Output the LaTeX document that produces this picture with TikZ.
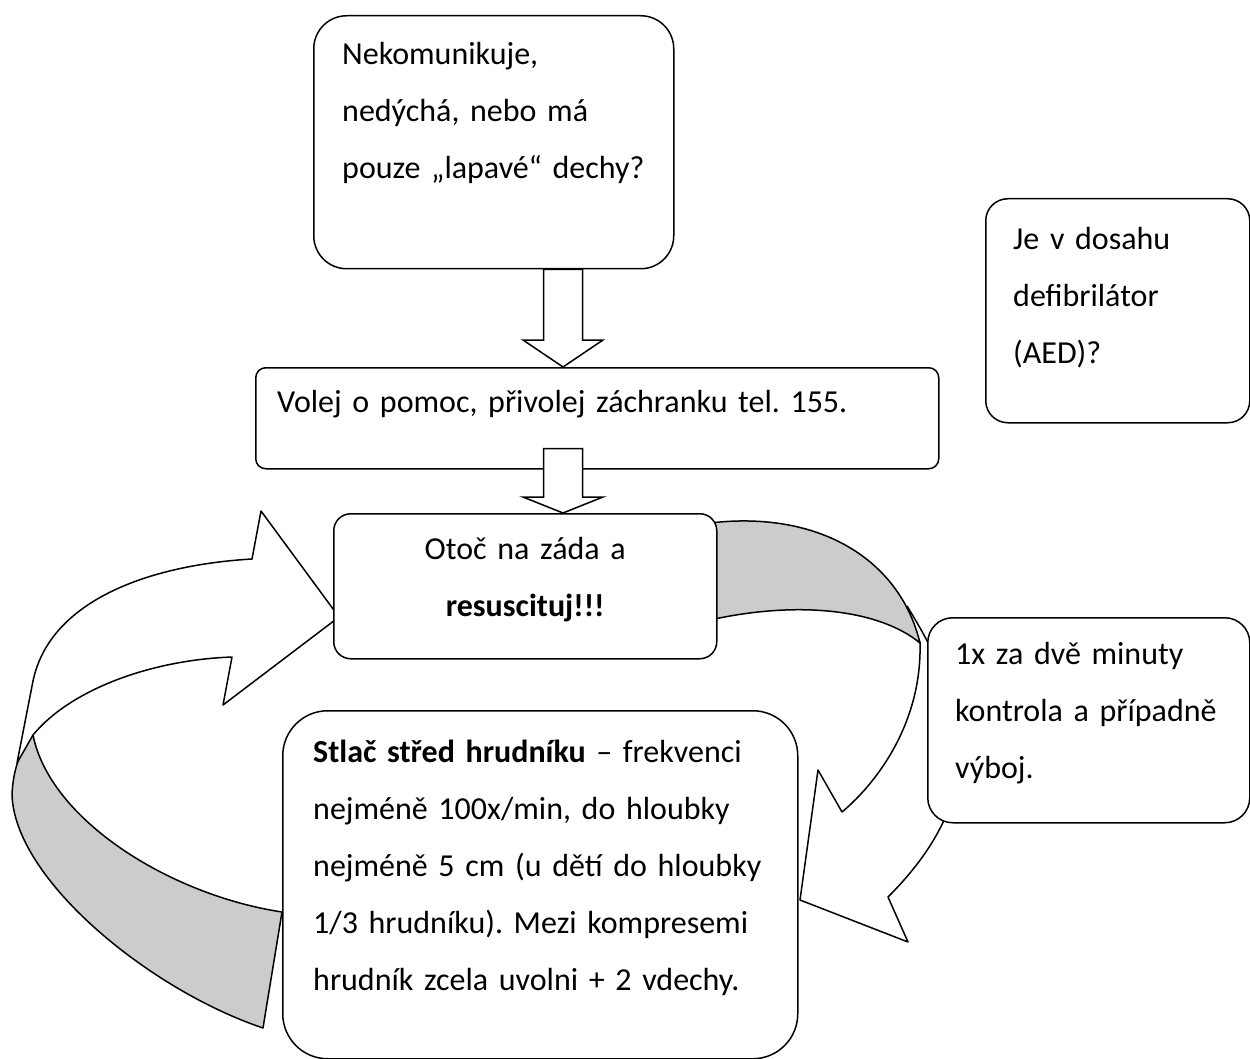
\documentclass[tikz,border=0pt]{standalone}
\usepackage{fontspec}
\setmainfont{Carlito}
\usepackage{tikz}
\frenchspacing
\tikzstyle{panel}=[draw, fill=white, line width=1.5pt, inner sep=0pt, anchor=north west]
\tikzstyle{words}=[font=\fontsize{32}{57}\selectfont, inner sep=0pt, text width=700pt, align=left, anchor=base west]
\tikzstyle{ribbon}=[draw, line width=1.5pt, line join=round]
\tikzstyle{hollow}=[draw, fill=white, line width=1.5pt]
\newcommand{\panel}{\node[panel]}
\newcommand{\words}{\node[words]}
% hollow block arrow: from, to, head length
\newcommand{\hollowarrow}[3]{%
  \path[hollow] ([xshift=-19.5pt]#1) -- ([xshift=-19.5pt,yshift=#3]#2)
    -- ([xshift=-40pt,yshift=#3]#2) -- (#2) -- ([xshift=40pt,yshift=#3]#2)
    -- ([xshift=19.5pt,yshift=#3]#2) -- ([xshift=19.5pt]#1) -- cycle;}

\begin{document}
\begin{tikzpicture}[x=1pt,y=-1pt]
\useasboundingbox (0,0) rectangle (1250,1059);
\coordinate (mid) at (563,0);

% left loop arrow
\path[ribbon, fill=gray!40] (33,735) .. controls (50,820) and (170,895) .. (282,912)
  -- (263,1028) .. controls (150,990) and (15,880) .. (12,795)
  .. controls (13,770) and (20,750) .. (33,735) -- cycle;
\path[ribbon, fill=white] (17,763) -- (33,681) .. controls (50,600) and (150,565) .. (252,559)
  -- (261,511) -- (339,617) -- (223,705) -- (232,657)
  .. controls (150,660) and (70,690) .. (33,735) -- cycle;

% right loop arrow
\path[ribbon, fill=white] (907,606) .. controls (965,700) and (995,790) .. (888,897)
  -- (908,942) -- (800,900) -- (818,770) -- (842,812)
  .. controls (880,780) and (922,720) .. (920,643) -- cycle;
\path[ribbon, fill=gray!40] (710,523) .. controls (820,510) and (900,560) .. (920,643)
  .. controls (880,610) and (800,600) .. (710,620) -- cycle;

% boxes
\panel[rounded corners=33pt, minimum width=360pt, minimum height=253pt] (ask) at (313,15) {};
\words (asktext) at ([shift={(29,50)}]ask.north west) {Nekomunikuje,\\nedýchá, nebo má\\pouze „lapavé“ dechy?};

\panel[rounded corners=10pt, minimum width=683pt, minimum height=101pt] (call) at (255,367) {};
\words (calltext) at ([shift={(22,45)}]call.north west) {Volej o pomoc, přivolej záchranku tel. 155.};

\hollowarrow{mid |- ask.south}{mid |- call.north}{27pt}

\panel[rounded corners=17pt, minimum width=383pt, minimum height=145pt] (turn) at (333,513) {};
\node[words, text width=383pt, align=center, anchor=base] (turntext) at ([yshift=-46pt]turn.north) {Otoč na záda a\\\textbf{resuscituj!!!}};

\coordinate (shafttop) at ([yshift=21pt]mid |- call.south);
\hollowarrow{shafttop}{mid |- turn.north}{16pt}

\panel[rounded corners=22pt, minimum width=264pt, minimum height=224pt] (aed) at (985,198) {};
\words (aedtext) at ([shift={(28,52)}]aed.north west) {Je v dosahu\\defibrilátor\\(AED)?};

\panel[rounded corners=25pt, minimum width=322pt, minimum height=205pt] (check) at (927,617) {};
\words (checktext) at ([shift={(28,47)}]check.north west) {1x za dvě minuty\\kontrola a případně\\výboj.};

\panel[rounded corners=45pt, minimum width=515pt, minimum height=348pt] (press) at (282,710) {};
\words (presstext) at ([shift={(31,52)}]press.north west) {\textbf{Stlač střed hrudníku} – frekvenci\\nejméně 100x/min, do hloubky\\nejméně 5 cm (u dětí do hloubky\\1/3 hrudníku). Mezi kompresemi\\hrudník zcela uvolni + 2 vdechy.};
\end{tikzpicture}
\end{document}
